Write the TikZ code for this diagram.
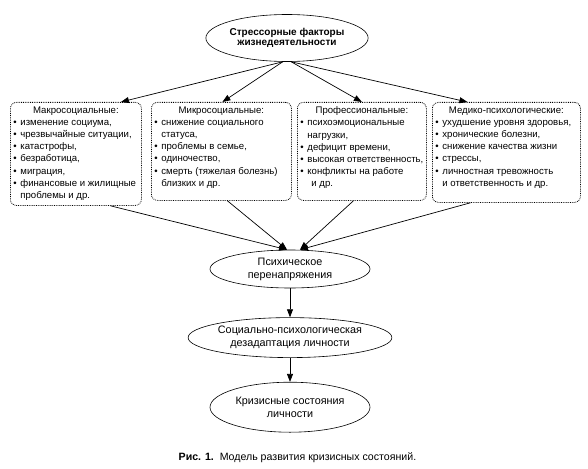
\documentclass[tikz,border=0pt]{standalone}
\usepackage{fontspec}
\setmainfont{Liberation Sans}
\usetikzlibrary{positioning,shapes.geometric,arrows.meta}

\newcommand{\bitem}{\par\hangindent=7pt\hangafter=1\noindent\makebox[7pt][l]{\textbullet}}
\newcommand{\boxtext}[3]{\parbox[c][#1][t]{#2}{\raggedright #3}}

\tikzset{
  factor/.style={draw, densely dotted, line width=0.8pt, rounded corners=6pt,
    inner xsep=3pt, inner ysep=4.5pt, anchor=north west,
    font=\fontsize{9.6}{12.1}\selectfont},
  state/.style={draw, ellipse, line width=0.6pt, minimum width=160pt,
    minimum height=38pt, inner sep=0pt, align=center,
    font=\fontsize{10.8}{13}\selectfont}
}

\begin{document}
\begin{tikzpicture}[x=1pt, y=-1pt, >={Triangle[length=8pt,width=6pt]}, line width=0.7pt]
    \useasboundingbox (0,0) rectangle (588,468);

    \node[state, minimum width=150pt, minimum height=47pt, font=\fontsize{10}{10.5}\selectfont\bfseries] (stress) at (287,38) {Стрессорные факторы\\жизнедеятельности};

    \node[factor] (macro) at (10,102) {\boxtext{94pt}{125pt}{%
        {\centering Макросоциальные:\par}
        \bitem изменение социума,
        \bitem чрезвычайные ситуации,
        \bitem катастрофы,
        \bitem безработица,
        \bitem миграция,
        \bitem финансовые и жилищные\newline проблемы и др.}};
    \node[factor] (micro) at (151,102) {\boxtext{89pt}{134pt}{%
        {\centering Микросоциальные:\par}
        \bitem снижение социального\newline статуса,
        \bitem проблемы в семье,
        \bitem одиночество,
        \bitem смерть (тяжелая болезнь)\newline близких и др.}};
    \node[factor] (prof) at (297,102) {\boxtext{89pt}{123pt}{%
        {\centering Профессиональные:\par}
        \bitem психоэмоциональные\newline нагрузки,
        \bitem дефицит времени,
        \bitem высокая ответственность,
        \bitem конфликты на работе\newline\hspace*{4pt}и др.}};
    \node[factor] (med) at (432,102) {\boxtext{91pt}{142pt}{%
        {\centering Медико-психологические:\par}
        \bitem ухудшение уровня здоровья,
        \bitem хронические болезни,
        \bitem снижение качества жизни
        \bitem стрессы,
        \bitem личностная тревожность\newline и ответственность и др.}};

    \node[state] (strain) at (290,269) {Психическое\\перенапряжения};
    \node[state, below=29pt of strain, minimum width=162pt, minimum height=40pt] (disad) {Социально-психологическая\\дезадаптация личности};
    \node[state, below=24pt of disad, minimum height=50pt] (crisis) {Кризисные состояния\\личности};

    \node[anchor=west, font=\fontsize{10.6}{12}\selectfont] (caption) at (175,458) {\textbf{Рис. 1.}\ \ Модель развития кризисных состояний.};

    \foreach \b/\dx in {macro/45,micro/1}
        \draw[->] (stress.260) -- ([xshift=\dx pt]\b.north);
    \foreach \b/\dx in {prof/0,med/-39}
        \draw[->] (stress.280) -- ([xshift=\dx pt]\b.north);
    \foreach \b/\dx in {macro/34.5,micro/6}
        \draw[->] ([xshift=\dx pt]\b.south) -- ([xshift=-3pt]strain.north);
    \foreach \b/\dx in {prof/-8.5,med/-36}
        \draw[->] ([xshift=\dx pt]\b.south) -- ([xshift=10pt]strain.north);
    \draw[->] (strain) -- (disad);
    \draw[->] (disad) -- (crisis);
\end{tikzpicture}
\end{document}
